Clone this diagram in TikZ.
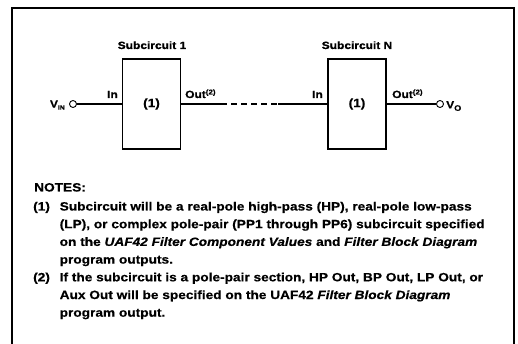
\documentclass[tikz,border=0pt]{standalone}
\usepackage{fontspec}
\setmainfont{Liberation Sans}[FakeStretch=1.14, BoldFeatures={FakeBold=0.5}, BoldItalicFeatures={FakeBold=0.5}]
\begin{document}
\begin{tikzpicture}[x=1pt,y=-1pt,
  blk/.style={draw, line width=1.8pt, minimum width=58pt, minimum height=90pt, inner sep=0pt},
  term/.style={draw, circle, line width=0.9pt, minimum size=7pt, inner sep=0pt},
  wire/.style={line width=1.2pt},
  lbl/.style={font=\fontsize{10.5}{12}\selectfont\bfseries, inner sep=0pt},
  note/.style={font=\fontsize{12}{14}\selectfont\bfseries, inner sep=0pt, anchor=base west}
]
\useasboundingbox (0,0) rectangle (518,344);
\begin{scope}
\clip (0,0) rectangle (518,344);
\draw[line width=2pt] (12,8) rectangle (514,360);
\end{scope}
% blocks
\node[blk] (b1) at (151.5,104) {};
\node[blk] (bn) at (357,104) {};
\node[lbl, font=\fontsize{12}{14}\selectfont\bfseries] (n1) at (b1.center) {(1)};
\node[lbl, font=\fontsize{12}{14}\selectfont\bfseries] (nn) at (bn.center) {(1)};
\node[lbl, anchor=base] (s1) at (152,49) {Subcircuit 1};
\node[lbl, anchor=base] (sn) at (357,49) {Subcircuit N};
% terminals
\node[term] (vin) at (73,104) {};
\node[term] (vo) at (440,104) {};
\node[lbl, anchor=east] (vinl) at (65,105) {V\raisebox{-2pt}{\fontsize{6}{6}\selectfont IN}};
\node[lbl, anchor=west] (vol) at (446,106) {V\raisebox{-2.5pt}{\fontsize{8}{8}\selectfont O}};
% port labels
\node[lbl, anchor=base east] (in1) at (118,98) {In};
\node[lbl, anchor=base east] (inn) at (323,98) {In};
\node[lbl, anchor=base west] (o1) at (185,98) {Out\raisebox{3.5pt}{\fontsize{7}{7}\selectfont(2)}};
\node[lbl, anchor=base west] (on) at (392,98) {Out\raisebox{3.5pt}{\fontsize{7}{7}\selectfont(2)}};
% wires
\coordinate (d1) at (221,104);
\coordinate (d2) at (278,104);
\draw[wire] (vin.east) -- (b1.west);
\draw[wire] (b1.east) -- (d1);
\draw[wire, dash pattern=on 6pt off 4pt] (d1) -- (d2);
\draw[wire] (d2) -- (bn.west);
\draw[wire] (bn.east) -- (vo.west);
% notes
\node[note] (notes) at (34,191.5) {NOTES:};
\node[note] (k1) at (33,210.5) {(1)};
\node[note] (t1a) at (59.5,210.5) {Subcircuit will be a real-pole high-pass (HP), real-pole low-pass};
\node[note] (t1b) at (59.5,228.2) {(LP), or complex pole-pair (PP1 through PP6) subcircuit specified};
\node[note] (t1c) at (59.5,245.9) {on the \textit{UAF42 Filter Component Values} and \textit{Filter Block Diagram}};
\node[note] (t1d) at (59.5,263.6) {program outputs.};
\node[note] (k2) at (33,281.3) {(2)};
\node[note] (t2a) at (59.5,281.3) {If the subcircuit is a pole-pair section, HP Out, BP Out, LP Out, or};
\node[note] (t2b) at (59.5,299) {Aux Out will be specified on the UAF42 \textit{Filter Block Diagram}};
\node[note] (t2c) at (59.5,316.7) {program output.};
\end{tikzpicture}
\end{document}
